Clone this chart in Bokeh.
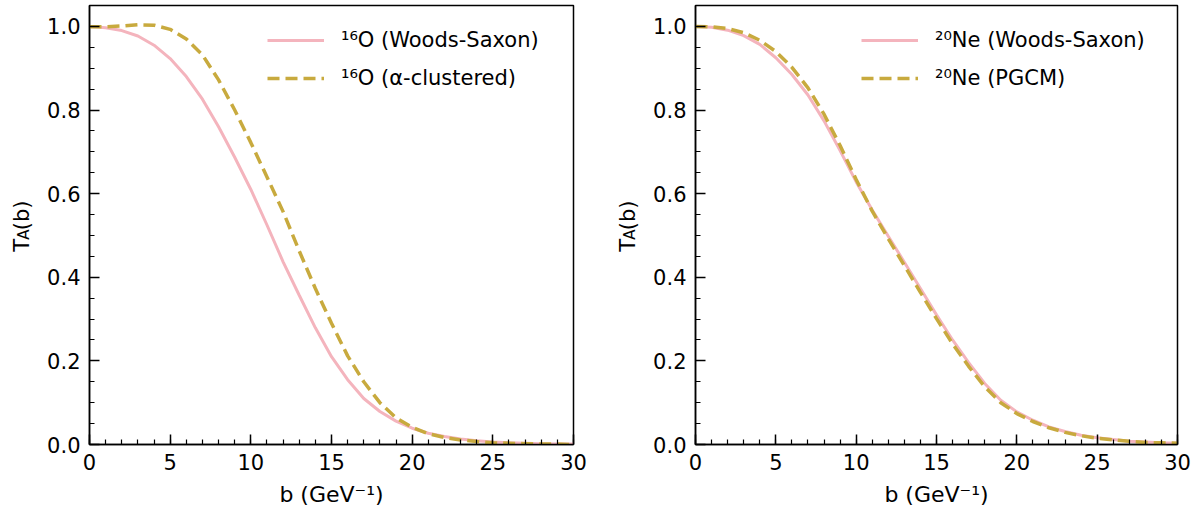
import math
from bokeh.plotting import figure
from bokeh.layouts import row
from bokeh.models import (Range1d, SingleIntervalTicker, PrintfTickFormatter,
                          Label, Legend, LegendItem)
from bokeh.embed import file_html
from bokeh.resources import INLINE

# ---------------- data ----------------
b_values = list(range(0, 31))

o16_woods_saxon = [1.000, 0.997, 0.990, 0.977, 0.955, 0.923, 0.880, 0.826, 0.760, 0.687,
                   0.610, 0.525, 0.437, 0.357, 0.279, 0.210, 0.155, 0.110, 0.079, 0.056,
                   0.039, 0.027, 0.019, 0.013, 0.009, 0.006, 0.004, 0.003, 0.002, 0.001, 0.001]

o16_alpha_clustered = [0.999, 0.999, 1.001, 1.004, 1.003, 0.993, 0.970, 0.932, 0.872, 0.800,
                       0.722, 0.640, 0.557, 0.463, 0.373, 0.290, 0.212, 0.150, 0.100, 0.064,
                       0.041, 0.026, 0.017, 0.011, 0.007, 0.004, 0.003, 0.002, 0.001, 0.001, 0.000]

ne20_woods_saxon = [1.000, 0.998, 0.991, 0.978, 0.957, 0.925, 0.885, 0.836, 0.774, 0.703,
                    0.628, 0.561, 0.498, 0.436, 0.373, 0.310, 0.250, 0.196, 0.146, 0.106,
                    0.078, 0.058, 0.042, 0.031, 0.022, 0.016, 0.012, 0.008, 0.006, 0.004, 0.003]

ne20_pgcm = [1.000, 0.999, 0.995, 0.985, 0.967, 0.940, 0.902, 0.853, 0.790, 0.715,
             0.634, 0.558, 0.492, 0.428, 0.364, 0.301, 0.241, 0.187, 0.138, 0.100,
             0.074, 0.055, 0.040, 0.029, 0.021, 0.015, 0.011, 0.008, 0.005, 0.004, 0.003]

left_labels = ["\u00b9\u2076O (Woods-Saxon)", "\u00b9\u2076O (\u03b1-clustered)"]
right_labels = ["\u00b2\u2070Ne (Woods-Saxon)", "\u00b2\u2070Ne (PGCM)"]
x_label = "b (GeV\u207b\u00b9)"
y_label_parts = ["T", "A", "(b)"]

x_ticks_interval = 5
y_ticks_interval = 0.2

# ---------------- style ----------------
FONT = "DejaVu Sans"
FS = "21px"
PINK = "#F4B4BD"
GOLD = "#C8AA3E"
H = 510


def make_ylabel_strip(width):
    s = figure(width=width, height=H, x_range=Range1d(0, width), y_range=Range1d(0, H),
               output_backend="svg", toolbar_location=None,
               x_axis_type=None, y_axis_type=None, min_border=0)
    s.outline_line_color = None
    s.background_fill_color = "white"
    s.border_fill_color = "white"
    common = dict(x_units="data", y_units="data", angle=math.pi / 2,
                  text_font=FONT, text_color="black", text_align="left",
                  text_baseline="alphabetic")
    s.add_layout(Label(text=y_label_parts[0], x=21, y=H - 286, text_font_size=FS, **common))
    s.add_layout(Label(text=y_label_parts[1], x=23, y=H - 272, text_font_size="15px", **common))
    s.add_layout(Label(text=y_label_parts[2], x=21, y=H - 261, text_font_size=FS, **common))
    return s


def make_panel(xs, ys_solid, ys_dashed, labels, width, right_border, label_width):
    p = figure(width=width, height=H,
               x_range=Range1d(0, 30), y_range=Range1d(0, 1.05),
               output_backend="svg", toolbar_location=None,
               min_border_left=45, min_border_right=right_border,
               min_border_top=5, min_border_bottom=66)
    p.background_fill_color = "white"
    p.border_fill_color = "white"
    p.outline_line_color = "black"
    p.outline_line_width = 1.5
    p.xgrid.visible = False
    p.ygrid.visible = False

    p.xaxis.ticker = SingleIntervalTicker(interval=x_ticks_interval, num_minor_ticks=5)
    p.yaxis.ticker = SingleIntervalTicker(interval=y_ticks_interval, num_minor_ticks=4)
    p.yaxis.formatter = PrintfTickFormatter(format="%.1f")

    for ax in (p.xaxis, p.yaxis):
        ax.axis_line_color = "black"
        ax.axis_line_width = 1.5
        ax.major_tick_in = 10
        ax.major_tick_out = 0
        ax.minor_tick_in = 5
        ax.minor_tick_out = 0
        ax.major_tick_line_color = "black"
        ax.major_tick_line_width = 1.5
        ax.minor_tick_line_color = "black"
        ax.minor_tick_line_width = 1.2
        ax.major_label_text_font = FONT
        ax.major_label_text_font_size = FS
        ax.major_label_text_color = "black"
    p.xaxis.major_label_standoff = 9
    p.yaxis.major_label_standoff = 9

    p.xaxis.axis_label = x_label
    p.xaxis.axis_label_text_font = FONT
    p.xaxis.axis_label_text_font_size = "22px"
    p.xaxis.axis_label_text_font_style = "normal"
    p.xaxis.axis_label_text_color = "black"
    p.xaxis.axis_label_standoff = 9

    r1 = p.line(xs, ys_solid, line_color=PINK, line_width=3)
    r2 = p.line(xs, ys_dashed, line_color=GOLD, line_width=3.5, line_dash="12 6")

    legend = Legend(items=[LegendItem(label=labels[0], renderers=[r1]),
                           LegendItem(label=labels[1], renderers=[r2])],
                    location="top_right",
                    border_line_alpha=0, background_fill_alpha=0,
                    label_text_font=FONT, label_text_font_size=FS,
                    label_text_color="black",
                    glyph_width=57, glyph_height=20, label_standoff=17,
                    label_width=label_width,
                    spacing=14, padding=11, margin=12)
    p.add_layout(legend)
    return p


s1 = make_ylabel_strip(44)
p1 = make_panel(b_values, o16_woods_saxon, o16_alpha_clustered, left_labels, 562, 33, 209)
s2 = make_ylabel_strip(44)
p2 = make_panel(b_values, ne20_woods_saxon, ne20_pgcm, right_labels, 542, 15, 219)

layout = row(s1, p1, s2, p2)
open("out.html", "w").write(file_html(layout, INLINE))
